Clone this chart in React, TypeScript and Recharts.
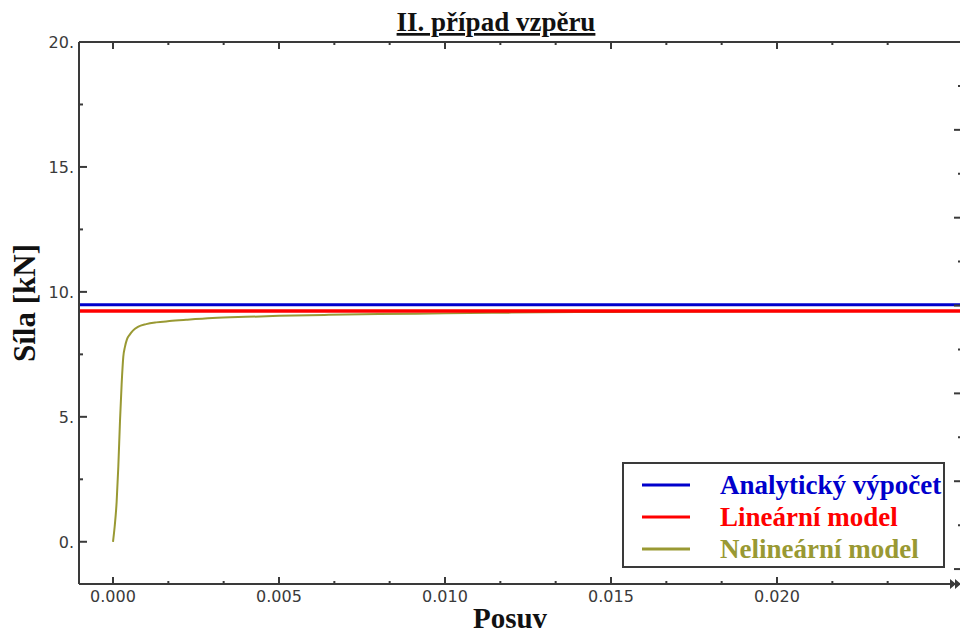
import { Line, LineChart, XAxis, YAxis } from "recharts";

// Posuv (x) and Síla [kN] (y)
const posuv = [
  0, 0.00005, 0.00011, 0.00016, 0.00021, 0.00026, 0.00031, 0.00036, 0.00042, 0.00051, 0.0006, 0.00075, 0.001,
  0.0013, 0.0017, 0.0022, 0.003, 0.004, 0.005, 0.0065, 0.008, 0.01, 0.012, 0.015, 0.018, 0.021, 0.024, 0.0256,
];
const sila = [
  0, 0.6, 1.6, 3.0, 4.8, 6.3, 7.4, 7.8, 8.1, 8.3, 8.45, 8.6, 8.71, 8.78, 8.83, 8.88, 8.95, 9.0, 9.04, 9.08, 9.11,
  9.14, 9.17, 9.2, 9.22, 9.23, 9.24, 9.24,
];
const analyticForce = 9.49;
const linearForce = 9.24;
const lineSpan = [-0.002, 0.03];

const seriesNames = ["Analytický výpočet", "Lineární model", "Nelineární model"];

const xMajor = [0, 0.005, 0.01, 0.015, 0.02];
const xTicks = [
  0, 0.001667, 0.003333, 0.005, 0.006667, 0.008333, 0.01, 0.011667, 0.013333, 0.015, 0.016667, 0.018333, 0.02,
  0.021667, 0.023333,
];
const xLabels = ["0.000", "0.005", "0.010", "0.015", "0.020"];
const yMajor = [0, 5, 10, 15, 20];
const yTicks = [0, 2.5, 5, 7.5, 10, 12.5, 15, 17.5, 20];
const yLabels = ["0.", "5.", "10.", "15.", "20."];
const rightTicks = [0, 1, 2, 3, 4, 5, 6, 7, 8, 9, 10, 11, 12];

const COLORS = ["#0000cc", "#ff0000", "#999933"];
const AXIS = "#3a3a3a";
const TICK_FONT = { fontFamily: "DejaVu Sans", fontSize: 16, fill: "#3a3a3a" };
const SERIF = "'Liberation Serif', 'Times New Roman', serif";

const nonlinear = posuv.map((x, i) => ({ x, y: sila[i] }));
const analytic = lineSpan.map((x) => ({ x, y: analyticForce }));
const linear = lineSpan.map((x) => ({ x, y: linearForce }));

const near = (list: number[], v: number) => list.findIndex((m) => Math.abs(m - v) < 1e-6);

function BottomTick(props: any) {
  const { x, y, payload } = props;
  const i = near(xMajor, payload.value);
  return (
    <g>
      <line x1={x} x2={x} y1={y} y2={y - (i >= 0 ? 7 : 3)} stroke={AXIS} strokeWidth={2} />
      {i >= 0 && (
        <text x={x} y={y + 18} textAnchor="middle" {...TICK_FONT}>
          {xLabels[i]}
        </text>
      )}
    </g>
  );
}

function TopTick(props: any) {
  const { x, y, payload } = props;
  const major = near(xMajor, payload.value) >= 0;
  return <line x1={x} x2={x} y1={y} y2={y + (major ? 7 : 3)} stroke={AXIS} strokeWidth={2} />;
}

function LeftTick(props: any) {
  const { x, y, payload } = props;
  const i = near(yMajor, payload.value);
  return (
    <g>
      <line x1={x} x2={x + (i >= 0 ? 8 : 4)} y1={y} y2={y} stroke={AXIS} strokeWidth={2} />
      {i >= 0 && (
        <text x={x - 5} y={y + 6} textAnchor="end" {...TICK_FONT}>
          {yLabels[i]}
        </text>
      )}
    </g>
  );
}

function RightTick(props: any) {
  const { x, y, payload } = props;
  const major = payload.value % 2 === 0;
  return <line x1={x} x2={x - (major ? 8 : 4)} y1={y} y2={y} stroke={AXIS} strokeWidth={2} />;
}

export default function App() {
  return (
    <div style={{ position: "absolute", left: 0, top: 0, width: 960, height: 637, overflow: "hidden", background: "#fff" }}>
      <LineChart width={1000} height={637} margin={{ top: 0, right: 0, bottom: 0, left: 0 }}>
        <XAxis
          xAxisId="b"
          type="number"
          dataKey="x"
          orientation="bottom"
          height={53}
          domain={[-0.001024, 0.025572]}
          allowDataOverflow
          ticks={xTicks}
          interval={0}
          tickSize={0}
          tickMargin={0}
          tickLine={false}
          axisLine={{ stroke: AXIS, strokeWidth: 2 }}
          tick={(p: any) => <BottomTick {...p} />}
        />
        <XAxis
          xAxisId="t"
          type="number"
          dataKey="x"
          orientation="top"
          height={42}
          domain={[-0.001024, 0.025572]}
          allowDataOverflow
          ticks={xTicks}
          interval={0}
          tickSize={0}
          tickMargin={0}
          tickLine={false}
          axisLine={{ stroke: AXIS, strokeWidth: 2 }}
          tick={(p: any) => <TopTick {...p} />}
        />
        <YAxis
          yAxisId="l"
          type="number"
          width={79}
          domain={[-1.69, 20]}
          allowDataOverflow
          ticks={yTicks}
          interval={0}
          tickSize={0}
          tickMargin={0}
          tickLine={false}
          axisLine={{ stroke: AXIS, strokeWidth: 2 }}
          tick={(p: any) => <LeftTick {...p} />}
        />
        <YAxis
          yAxisId="r"
          type="number"
          orientation="right"
          width={38}
          domain={[-0.34, 12]}
          allowDataOverflow
          ticks={rightTicks}
          interval={0}
          tickSize={0}
          tickMargin={0}
          tickLine={false}
          axisLine={false}
          tick={(p: any) => <RightTick {...p} />}
        />
        <Line xAxisId="t" yAxisId="r" data={[]} dataKey="y" stroke="none" dot={false} isAnimationActive={false} />
        <Line
          xAxisId="b"
          yAxisId="l"
          data={analytic}
          dataKey="y"
          name={seriesNames[0]}
          stroke={COLORS[0]}
          strokeWidth={3}
          dot={false}
          isAnimationActive={false}
        />
        <Line
          xAxisId="b"
          yAxisId="l"
          data={nonlinear}
          dataKey="y"
          name={seriesNames[2]}
          type="monotone"
          stroke={COLORS[2]}
          strokeWidth={2}
          dot={false}
          isAnimationActive={false}
        />
        <Line
          xAxisId="b"
          yAxisId="l"
          data={linear}
          dataKey="y"
          name={seriesNames[1]}
          stroke={COLORS[1]}
          strokeWidth={3.5}
          dot={false}
          isAnimationActive={false}
        />
      </LineChart>

      <svg width={960} height={637} style={{ position: "absolute", left: 0, top: 0, pointerEvents: "none" }}>
        <text
          x={496}
          y={31}
          textAnchor="middle"
          fontFamily={SERIF}
          fontWeight="bold"
          fontSize={27}
          fill="#111"
          textDecoration="underline"
        >
          II. případ vzpěru
        </text>
        <text
          transform="translate(35,303) rotate(-90)"
          textAnchor="middle"
          fontFamily={SERIF}
          fontWeight="bold"
          fontSize={31}
          fill="#111"
        >
          Síla [kN]
        </text>
        <text x={510} y={628} textAnchor="middle" fontFamily={SERIF} fontWeight="bold" fontSize={29} fill="#111">
          Posuv
        </text>
        <path d="M950,579 L956,584 L950,589 Z M955,579 L961,584 L955,589 Z" fill={AXIS} />

        <rect x={623} y={463} width={321} height={104} fill="#fff" stroke={AXIS} strokeWidth={2} />
        {seriesNames.map((name, i) => (
          <g key={name}>
            <line x1={642} x2={690} y1={485 + i * 32} y2={485 + i * 32} stroke={COLORS[i]} strokeWidth={3} />
            <text x={720} y={494 + i * 32} fontFamily={SERIF} fontWeight="bold" fontSize={27} fill={COLORS[i]}>
              {name}
            </text>
          </g>
        ))}
      </svg>
    </div>
  );
}
